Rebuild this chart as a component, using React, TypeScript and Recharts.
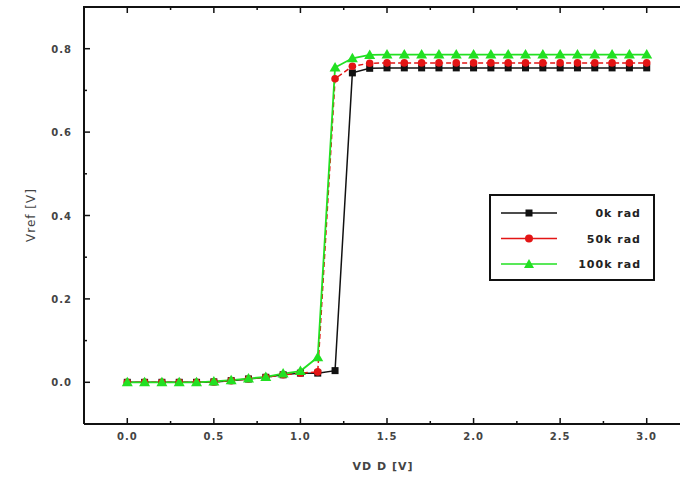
import React from 'react';
import { LineChart, Line, XAxis, YAxis } from 'recharts';

const VDD = [0.0, 0.1, 0.2, 0.3, 0.4, 0.5, 0.6, 0.7, 0.8, 0.9, 1.0, 1.1, 1.2, 1.3, 1.4, 1.5, 1.6, 1.7, 1.8, 1.9, 2.0, 2.1, 2.2, 2.3, 2.4, 2.5, 2.6, 2.7, 2.8, 2.9, 3.0];
const KRAD_0 = [0, 0, 0, 0, 0, 0.001, 0.004, 0.008, 0.012, 0.018, 0.022, 0.022, 0.028, 0.742, 0.753, 0.754, 0.754, 0.754, 0.754, 0.754, 0.754, 0.754, 0.754, 0.754, 0.754, 0.754, 0.754, 0.754, 0.754, 0.754, 0.754];
const KRAD_50 = [0, 0, 0, 0, 0, 0.001, 0.004, 0.008, 0.012, 0.018, 0.022, 0.025, 0.728, 0.758, 0.765, 0.766, 0.766, 0.766, 0.766, 0.766, 0.766, 0.766, 0.766, 0.766, 0.766, 0.766, 0.766, 0.766, 0.766, 0.766, 0.766];
const KRAD_100 = [0, 0, 0, 0, 0, 0.002, 0.005, 0.009, 0.013, 0.021, 0.027, 0.06, 0.755, 0.777, 0.785, 0.786, 0.786, 0.786, 0.786, 0.786, 0.786, 0.786, 0.786, 0.786, 0.786, 0.786, 0.786, 0.786, 0.786, 0.786, 0.786];
const SERIES_NAMES = ['0k rad', '50k rad', '100k rad'];

const X_MAJOR = [0, 0.5, 1.0, 1.5, 2.0, 2.5, 3.0];
const X_MINOR = [0.25, 0.75, 1.25, 1.75, 2.25, 2.75];
const Y_MAJOR = [0, 0.2, 0.4, 0.6, 0.8];
const Y_MINOR = [0.1, 0.3, 0.5, 0.7];
const X_DOMAIN = [-0.25, 3.25];
const Y_DOMAIN = [-0.1, 0.9];

const data = VDD.map((x, i) => ({ x, k0: KRAD_0[i], k50: KRAD_50[i], k100: KRAD_100[i] }));

const PLOT_LEFT = 84;
const PLOT_TOP = 7;
const PLOT_W = 606;

const BLACK = '#111111';
const RED = '#e31515';
const GREEN = '#22e022';
const FONT = '"DejaVu Sans", sans-serif';

const isMajor = (v: number, majors: number[]) => majors.some((m) => Math.abs(m - v) < 1e-6);

const BottomTick = (props: any) => {
  const { x, y, payload } = props;
  const major = isMajor(payload.value, X_MAJOR);
  const len = major ? 6 : 3;
  return (
    <g>
      <line x1={x} y1={y} x2={x} y2={y - len} stroke={BLACK} strokeWidth={1.5} />
      {major && (
        <text x={x} y={y + 16} textAnchor="middle" fontSize={10} fontFamily={FONT} fontWeight="bold" fill="#444" letterSpacing={1}>
          {Number(payload.value).toFixed(1)}
        </text>
      )}
    </g>
  );
};

const LeftTick = (props: any) => {
  const { x, y, payload } = props;
  const major = isMajor(payload.value, Y_MAJOR);
  return (
    <g>
      <line x1={x} y1={y} x2={x + (major ? 6 : 3)} y2={y} stroke={BLACK} strokeWidth={1.5} />
      {major && (
        <text x={x - 12} y={y + 4} textAnchor="end" fontSize={10} fontFamily={FONT} fontWeight="bold" fill="#444" letterSpacing={1}>
          {Number(payload.value).toFixed(1)}
        </text>
      )}
    </g>
  );
};

const SquareDot = (props: any) => {
  const { cx, cy } = props;
  if (cx == null || cy == null) return <g />;
  return <rect x={cx - 3.5} y={cy - 3.5} width={7} height={7} fill={BLACK} />;
};
const CircleDot = (props: any) => {
  const { cx, cy } = props;
  if (cx == null || cy == null) return <g />;
  return <circle cx={cx} cy={cy} r={3.8} fill={RED} />;
};
const TriangleDot = (props: any) => {
  const { cx, cy } = props;
  if (cx == null || cy == null) return <g />;
  return <polygon points={`${cx},${cy - 5.5} ${cx - 5.5},${cy + 4} ${cx + 5.5},${cy + 4}`} fill={GREEN} />;
};

// Top frame edge with inward ticks (same domain / width as the x axis)
const xToPx = (v: number) => PLOT_LEFT + ((v - X_DOMAIN[0]) / (X_DOMAIN[1] - X_DOMAIN[0])) * PLOT_W;
const TopFrame = () => (
  <svg width={680} height={24} style={{ position: 'absolute', left: 0, top: 0, pointerEvents: 'none' }}>
    <line x1={PLOT_LEFT - 1} y1={PLOT_TOP} x2={PLOT_LEFT + PLOT_W} y2={PLOT_TOP} stroke={BLACK} strokeWidth={2} />
    {[...X_MAJOR, ...X_MINOR].map((v) => (
      <line key={v} x1={xToPx(v)} y1={PLOT_TOP} x2={xToPx(v)} y2={PLOT_TOP + (isMajor(v, X_MAJOR) ? 6 : 3)} stroke={BLACK} strokeWidth={1.5} />
    ))}
  </svg>
);

const LEGEND_STYLES = [
  { color: BLACK, marker: 'square' },
  { color: RED, marker: 'circle' },
  { color: GREEN, marker: 'triangle' },
];

const LegendBox = () => (
  <div style={{ position: 'absolute', left: 489, top: 194, width: 162, height: 83, border: '2px solid #111', background: '#fff' }}>
    <svg width={162} height={83} style={{ display: 'block' }}>
      {SERIES_NAMES.map((name, i) => {
        const y = 17 + i * 25.5;
        const s = LEGEND_STYLES[i];
        const mx = 38;
        return (
          <g key={name}>
            <line x1={10} y1={y} x2={66} y2={y} stroke={s.color} strokeWidth={1.5} />
            {s.marker === 'square' && <rect x={mx - 3.5} y={y - 3.5} width={7} height={7} fill={s.color} />}
            {s.marker === 'circle' && <circle cx={mx} cy={y} r={4} fill={s.color} />}
            {s.marker === 'triangle' && <polygon points={`${mx},${y - 5} ${mx - 5},${y + 4} ${mx + 5},${y + 4}`} fill={s.color} />}
            <text x={150} y={y + 4} textAnchor="end" fontSize={11} fontFamily={FONT} fontWeight="bold" fill="#222" letterSpacing={1}>
              {name}
            </text>
          </g>
        );
      })}
    </svg>
  </div>
);

export default function App() {
  return (
    <div style={{ position: 'absolute', left: 0, top: 0, width: 680, height: 488, overflow: 'hidden', background: '#fff' }}>
      <LineChart width={700} height={488} data={data} margin={{ top: PLOT_TOP, right: 10, bottom: 0, left: 0 }}>
        <XAxis
          dataKey="x"
          type="number"
          domain={X_DOMAIN}
          ticks={[...X_MAJOR, ...X_MINOR]}
          tickSize={0}
          tickMargin={0}
          tickLine={false}
          tick={<BottomTick />}
          axisLine={{ stroke: BLACK, strokeWidth: 2 }}
          height={64}
          interval={0}
          allowDataOverflow
          label={{
            content: () => (
              <text x={383} y={470} textAnchor="middle" fontSize={11} fontFamily={FONT} fontWeight="bold" fill="#444" letterSpacing={1}>
                VD D [V]
              </text>
            ),
          }}
        />
        <YAxis
          type="number"
          domain={Y_DOMAIN}
          ticks={[...Y_MAJOR, ...Y_MINOR]}
          tickSize={0}
          tickMargin={0}
          tickLine={false}
          tick={<LeftTick />}
          axisLine={{ stroke: BLACK, strokeWidth: 2 }}
          width={PLOT_LEFT}
          interval={0}
          allowDataOverflow
          label={{
            content: () => (
              <text x={35} y={215} transform="rotate(-90, 35, 215)" textAnchor="middle" fontSize={12} fontFamily={FONT} fill="#444" letterSpacing={1}>
                Vref [V]
              </text>
            ),
          }}
        />
        <Line dataKey="k0" name={SERIES_NAMES[0]} stroke={BLACK} strokeWidth={1.5} dot={<SquareDot />} isAnimationActive={false} />
        <Line dataKey="k50" name={SERIES_NAMES[1]} stroke={RED} strokeWidth={1.5} strokeDasharray="5 3" dot={<CircleDot />} isAnimationActive={false} />
        <Line dataKey="k100" name={SERIES_NAMES[2]} stroke={GREEN} strokeWidth={1.8} dot={<TriangleDot />} isAnimationActive={false} />
      </LineChart>
      <TopFrame />
      <LegendBox />
    </div>
  );
}
